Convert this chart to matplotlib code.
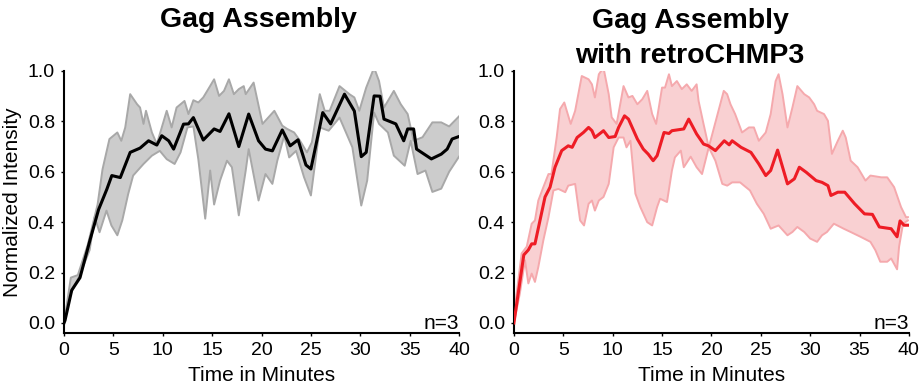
import numpy as np
import matplotlib.pyplot as plt

plt.rcParams['font.family'] = ['Liberation Sans', 'DejaVu Sans']

# ---- Gag Assembly (left) ----
gag_t_mean = [0, 0.1, 0.78, 1.62, 2.64, 3.5, 4.33, 4.84, 5.7, 6.7, 7.7, 8.56, 9.4, 9.9, 10.6, 11.1,
              12.1, 12.6, 13.1, 14.1, 15.2, 15.8, 16.7, 17.7, 18.7, 19.7, 20.4, 21.1, 22.1, 22.9,
              23.7, 24.5, 25.0, 26.2, 27.0, 28.4, 29.4, 30.1, 30.6, 31.4, 32.0, 32.4, 33.6, 34.4,
              34.8, 35.4, 35.7, 37.2, 38.2, 38.8, 39.3, 40.0]
gag_mean = [0, 0.01, 0.13, 0.18, 0.33, 0.45, 0.53, 0.585, 0.577, 0.677, 0.694, 0.723, 0.706, 0.743,
            0.723, 0.69, 0.789, 0.79, 0.815, 0.726, 0.77, 0.76, 0.83, 0.70, 0.829, 0.723, 0.69, 0.683,
            0.766, 0.703, 0.727, 0.627, 0.611, 0.835, 0.79, 0.908, 0.841, 0.66, 0.677, 0.901, 0.90,
            0.809, 0.79, 0.723, 0.77, 0.77, 0.69, 0.651, 0.67, 0.69, 0.73, 0.74]

gag_t_up = [0, 0.69, 1.4, 2.4, 3.4, 3.9, 4.6, 5.4, 5.8, 6.2, 6.7, 7.4, 7.7, 8.05, 8.3, 8.9, 9.4, 9.9,
            10.4, 10.9, 11.4, 12.2, 12.6, 13.1, 13.6, 14.1, 14.7, 15.2, 15.7, 16.2, 16.7, 17.2, 17.7,
            18.2, 18.4, 19.2, 20.1, 21.3, 22.1, 22.6, 23.3, 23.9, 24.6, 25.1, 25.9, 26.4, 26.9, 27.9,
            28.9, 29.4, 29.9, 30.6, 31.4, 31.9, 32.4, 33.4, 34.1, 34.8, 35.4, 36.3, 37.3, 38.2, 39.0,
            39.5, 40.0]
gag_up = [0, 0.18, 0.19, 0.31, 0.47, 0.61, 0.73, 0.756, 0.723, 0.776, 0.908, 0.868, 0.855, 0.79, 0.842,
          0.756, 0.71, 0.776, 0.842, 0.776, 0.855, 0.881, 0.829, 0.884, 0.875, 0.895, 0.934, 0.967,
          0.901, 0.921, 0.967, 0.908, 0.928, 0.94, 0.908, 0.954, 0.79, 0.842, 0.783, 0.77, 0.756,
          0.723, 0.677, 0.717, 0.908, 0.842, 0.842, 0.94, 0.908, 0.895, 0.842, 0.934, 1.013, 0.96,
          0.855, 0.921, 0.868, 0.829, 0.723, 0.737, 0.796, 0.796, 0.78, 0.80, 0.82]

gag_t_lo = [0, 0.69, 1.6, 2.6, 3.1, 3.6, 4.3, 4.8, 5.4, 5.9, 6.5, 7.0, 8.05, 8.9, 9.7, 10.4, 11.2,
            11.8, 12.5, 13.1, 13.6, 14.3, 14.8, 15.2, 15.8, 16.5, 17.0, 17.7, 18.4, 18.7, 19.7, 20.4,
            21.1, 21.6, 22.3, 22.8, 23.5, 24.3, 25.0, 25.9, 26.8, 27.9, 29.2, 30.1, 30.7, 31.4, 31.9,
            32.8, 33.4, 34.5, 35.1, 35.8, 36.6, 37.3, 38.2, 39.0, 40.0]
gag_lo = [0, 0.117, 0.19, 0.29, 0.42, 0.36, 0.446, 0.387, 0.348, 0.407, 0.512, 0.585, 0.631, 0.664,
          0.683, 0.65, 0.631, 0.677, 0.776, 0.78, 0.65, 0.414, 0.605, 0.47, 0.565, 0.644, 0.618, 0.427,
          0.605, 0.69, 0.486, 0.591, 0.552, 0.644, 0.743, 0.657, 0.683, 0.579, 0.506, 0.776, 0.763,
          0.815, 0.697, 0.466, 0.565, 0.835, 0.79, 0.756, 0.664, 0.624, 0.723, 0.591, 0.605, 0.52,
          0.533, 0.60, 0.66]

# ---- Gag Assembly with retroCHMP3 (right) ----
chmp_t_mean = [0, 1.0, 1.46, 1.8, 2.13, 2.64, 3.15, 3.66, 4.16, 4.84, 5.5, 5.9, 6.4, 7.04, 7.56, 7.9,
               8.2, 9.07, 9.6, 10.25, 10.6, 11.2, 11.6, 12.5, 13.1, 13.6, 14.1, 14.5, 15.2, 15.7, 16.0,
               17.2, 17.7, 18.5, 19.2, 19.7, 20.4, 21.3, 21.8, 22.1, 23.0, 24.0, 24.8, 25.5, 26.0,
               26.7, 27.7, 28.4, 28.9, 29.6, 30.6, 31.2, 31.8, 32.1, 32.8, 33.5, 34.5, 35.5, 36.3,
               37.0, 38.2, 38.8, 39.1, 39.5, 39.9]
chmp_mean = [0, 0.27, 0.29, 0.314, 0.314, 0.407, 0.5, 0.539, 0.618, 0.684, 0.703, 0.697, 0.736, 0.756,
             0.776, 0.763, 0.736, 0.763, 0.736, 0.74, 0.776, 0.822, 0.809, 0.73, 0.69, 0.67, 0.644,
             0.664, 0.756, 0.752, 0.763, 0.77, 0.809, 0.75, 0.71, 0.703, 0.684, 0.723, 0.707, 0.723,
             0.697, 0.677, 0.631, 0.585, 0.605, 0.686, 0.552, 0.572, 0.618, 0.598, 0.565, 0.558, 0.545,
             0.506, 0.519, 0.519, 0.473, 0.433, 0.431, 0.381, 0.374, 0.342, 0.405, 0.388, 0.388]

chmp_t_up = [0, 0.78, 1.3, 1.8, 2.13, 2.47, 2.98, 3.5, 3.8, 4.33, 4.67, 5.1, 5.35, 5.75, 6.2, 6.87,
             7.56, 7.9, 8.2, 8.6, 9.07, 9.6, 9.9, 10.4, 11.1, 11.6, 12.0, 12.5, 13.0, 13.5, 14.0, 14.4,
             15.0, 15.3, 15.7, 16.0, 16.5, 17.0, 17.5, 18.0, 18.5, 18.7, 19.2, 19.73, 21.25, 21.59,
             21.93, 22.4, 23.1, 23.8, 24.3, 24.8, 25.5, 26.0, 26.5, 26.8, 27.2, 27.7, 28.2, 28.7, 29.4,
             29.9, 30.4, 30.7, 31.4, 31.8, 32.2, 32.8, 33.3, 33.6, 34.1, 34.8, 35.6, 36.1, 37.2, 37.8,
             38.5, 39.2, 39.7, 39.9]
chmp_up = [0.03, 0.276, 0.303, 0.394, 0.407, 0.486, 0.539, 0.591, 0.591, 0.736, 0.849, 0.875, 0.842,
           0.79, 0.842, 0.98, 0.967, 0.947, 0.895, 0.987, 1.013, 0.908, 0.816, 0.79, 0.94, 0.895, 0.901,
           0.868, 0.888, 0.921, 0.829, 0.79, 0.934, 0.934, 0.987, 0.94, 0.96, 0.928, 0.947, 0.921,
           0.947, 0.881, 0.79, 0.697, 0.921, 0.908, 0.868, 0.829, 0.756, 0.776, 0.776, 0.723, 0.756,
           0.829, 0.96, 0.987, 0.908, 0.776, 0.855, 0.94, 0.908, 0.895, 0.868, 0.842, 0.829, 0.802,
           0.671, 0.723, 0.763, 0.736, 0.644, 0.618, 0.565, 0.585, 0.578, 0.578, 0.539, 0.46, 0.42,
           0.42]

chmp_t_lo = [0, 0.6, 1.12, 1.46, 1.8, 2.13, 2.47, 2.98, 3.5, 4.0, 4.5, 5.2, 5.5, 6.2, 6.7, 7.1, 7.56,
             7.9, 8.2, 8.6, 9.07, 9.6, 10.1, 10.6, 11.1, 11.4, 11.8, 12.3, 12.8, 13.5, 14.0, 14.5,
             14.8, 15.5, 16.0, 16.3, 16.9, 17.2, 17.9, 18.5, 19.05, 19.73, 20.4, 21.1, 21.6, 22.1,
             22.9, 23.3, 23.9, 24.6, 25.3, 26.0, 26.8, 27.7, 28.2, 28.7, 29.4, 30.0, 30.7, 31.2, 31.7,
             32.4, 33.4, 34.1, 35.1, 36.1, 36.6, 37.1, 37.8, 38.2, 38.8, 39.0, 39.4, 39.9]
chmp_lo = [0, 0.117, 0.249, 0.157, 0.196, 0.163, 0.222, 0.328, 0.42, 0.526, 0.532, 0.519, 0.545, 0.552,
           0.407, 0.387, 0.473, 0.486, 0.446, 0.486, 0.5, 0.552, 0.697, 0.736, 0.736, 0.697, 0.723,
           0.513, 0.46, 0.4, 0.387, 0.46, 0.493, 0.48, 0.605, 0.657, 0.684, 0.618, 0.66, 0.618, 0.591,
           0.697, 0.644, 0.552, 0.545, 0.558, 0.558, 0.545, 0.526, 0.473, 0.433, 0.374, 0.387, 0.348,
           0.361, 0.381, 0.361, 0.335, 0.322, 0.348, 0.361, 0.394, 0.374, 0.361, 0.342, 0.322, 0.289,
           0.243, 0.243, 0.256, 0.213, 0.302, 0.394, 0.407]

panels = [
    dict(tm=gag_t_mean, m=gag_mean, tu=gag_t_up, u=gag_up, tl=gag_t_lo, l=gag_lo,
         line='black', fill='#cccccc', edge='#a8a8a8'),
    dict(tm=chmp_t_mean, m=chmp_mean, tu=chmp_t_up, u=chmp_up, tl=chmp_t_lo, l=chmp_lo,
         line='#ee1c25', fill='#f9d0d2', edge='#f5a9ad'),
]

fig = plt.figure(figsize=(9.21, 3.9), dpi=100)
axes = [fig.add_axes([0.0695, 0.146, 0.4289, 0.672]),
        fig.add_axes([0.558, 0.146, 0.4289, 0.672])]

for ax, p in zip(axes, panels):
    # band polygon: upper edge then lower edge reversed
    xs = np.concatenate([p['tu'], p['tl'][::-1]])
    ys = np.concatenate([p['u'], p['l'][::-1]])
    ax.fill(xs, ys, color=p['fill'], lw=0, zorder=1)
    ax.plot(p['tu'], p['u'], color=p['edge'], lw=1.4, zorder=2, solid_joinstyle='round')
    ax.plot(p['tl'], p['l'], color=p['edge'], lw=1.4, zorder=2, solid_joinstyle='round')
    ax.plot(p['tm'], p['m'], color=p['line'], lw=2.2, zorder=3, solid_joinstyle='round')

    ax.set_xlim(0, 40)
    ax.set_ylim(-0.04, 1.0)
    ax.set_xticks(np.arange(0, 41, 5))
    ax.set_yticks(np.arange(0, 1.01, 0.2))
    ax.yaxis.set_major_formatter(plt.FormatStrFormatter('%.1f'))
    for s in ['top', 'right']:
        ax.spines[s].set_visible(False)
    for s in ['left', 'bottom']:
        ax.spines[s].set_linewidth(1.5)
    ax.tick_params(labelsize=14, length=2.5, width=1, pad=4)
    ax.set_xlabel('Time in Minutes', fontsize=15, labelpad=5)
    ax.text(1.0, 0.015, 'n=3', transform=ax.transAxes, ha='right', va='baseline', fontsize=15)

axes[0].set_ylabel('Normalized Intensity', fontsize=15, labelpad=4)

fig.text(258 / 921, 1 - 27 / 390, 'Gag Assembly', ha='center', va='baseline',
         fontsize=20.5, fontweight='bold')
fig.text(690 / 921, 1 - 28 / 390, 'Gag Assembly', ha='center', va='baseline',
         fontsize=20.5, fontweight='bold')
fig.text(690 / 921, 1 - 63 / 390, 'with retroCHMP3', ha='center', va='baseline',
         fontsize=20.5, fontweight='bold')

fig.savefig('out.png', dpi=100)
